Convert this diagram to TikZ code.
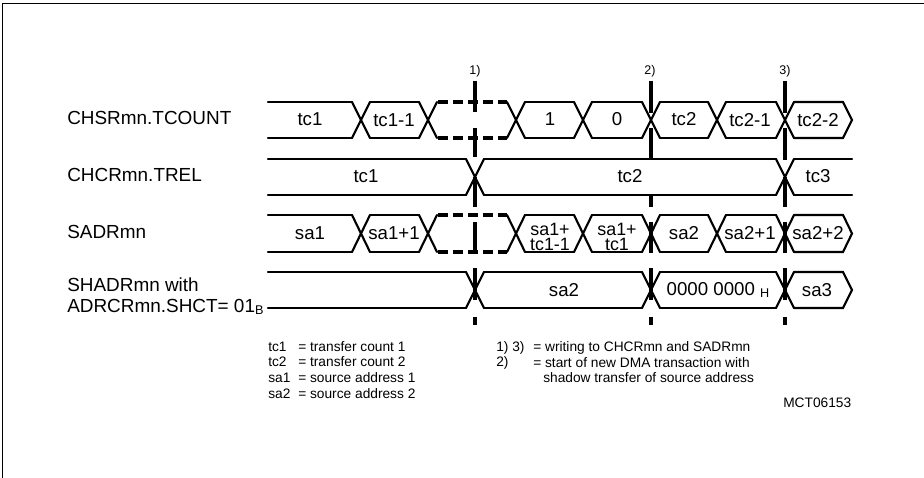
\documentclass[tikz,border=0pt]{standalone}
\usepackage{fontspec}
\setmainfont{Liberation Sans}
\tikzset{x=0.75pt,y=-0.75pt,
  sig/.style={line width=1.6pt,line join=miter,line cap=round},
  dsh/.style={line width=2.4pt,dash pattern=on 7.5pt off 3.75pt},
  vmark/.style={line width=2.6pt},
  lab/.style={font=\fontsize{14.2}{16}\selectfont,inner sep=0pt,anchor=west},
  val/.style={font=\fontsize{14}{11.25}\selectfont,inner sep=0pt,align=center},
  valtwo/.style={font=\fontsize{13.4}{11.25}\selectfont,inner sep=0pt,align=center},
  small/.style={font=\fontsize{10.3}{12}\selectfont,inner sep=0pt,anchor=west},
  refn/.style={font=\fontsize{9.4}{11}\selectfont,inner sep=0pt}}
\newcommand{\topbot}[4]{\draw[sig] (#1,#3) -- (#2,#3); \draw[sig] (#1,#4) -- (#2,#4);}
\newcommand{\crossx}[3]{\draw[sig] (#1-9,#2) -- (#1+9,#3); \draw[sig] (#1-9,#3) -- (#1+9,#2);}
\begin{document}
\begin{tikzpicture}
\useasboundingbox (0,0) rectangle (924,478);
\draw[line width=0.8pt] (2.5,478) -- (2.5,3.5) -- (924,3.5);
% row 1
\topbot{268}{352}{102}{138}
\crossx{361}{102}{138}
\topbot{370}{419}{102}{138}
\crossx{428}{102}{138}
\draw[dsh] (438,102) -- (507,102); \draw[dsh] (438,138) -- (507,138);
\crossx{516}{102}{138}
\topbot{525}{574}{102}{138}
\crossx{583}{102}{138}
\topbot{592}{642}{102}{138}
\crossx{651}{102}{138}
\topbot{660}{708}{102}{138}
\crossx{717}{102}{138}
\topbot{726}{776}{102}{138}
\crossx{785}{102}{138}
\draw[sig] (794,102) -- (843,102) -- (852,120) -- (843,138) -- (794,138);
% row 2
\topbot{268}{466}{159}{195}
\crossx{475}{159}{195}
\topbot{484}{776}{159}{195}
\crossx{785}{159}{195}
\topbot{794}{852}{159}{195}
% row 3
\topbot{268}{352}{215}{252}
\crossx{361}{215}{252}
\topbot{370}{419}{215}{252}
\crossx{428}{215}{252}
\draw[dsh] (438,215) -- (507,215); \draw[dsh] (438,252) -- (507,252);
\crossx{516}{215}{252}
\topbot{525}{574}{215}{252}
\crossx{583}{215}{252}
\topbot{592}{642}{215}{252}
\crossx{651}{215}{252}
\topbot{660}{708}{215}{252}
\crossx{717}{215}{252}
\topbot{726}{776}{215}{252}
\crossx{785}{215}{252}
\draw[sig] (794,215) -- (843,215) -- (852,233.5) -- (843,252) -- (794,252);
% row 4
\topbot{268}{466}{272}{308}
\crossx{475}{272}{308}
\topbot{484}{642}{272}{308}
\crossx{651}{272}{308}
\topbot{660}{776}{272}{308}
\crossx{785}{272}{308}
\draw[sig] (794,272) -- (843,272) -- (852,290) -- (843,308) -- (794,308);
% markers
\foreach \x/\a in {475/112,651/113,785/113}{\draw[vmark] (\x,81) -- (\x,\a);}
\foreach \x/\a in {475/157,651/158,785/160}{\draw[vmark] (\x,128) -- (\x,\a);}
\draw[vmark] (475,177) -- (475,207);
\draw[vmark] (651,195) -- (651,207);
\draw[vmark] (785,177) -- (785,207);
\foreach \x in {475,651,785}{
  \draw[vmark] (\x,222) -- (\x,253);
  \draw[vmark] (\x,268) -- (\x,300);
  \draw[vmark] (\x,317) -- (\x,325);
}
\node[refn] (r1) at (475,71) {1)};
\node[refn] (r2) at (650,71) {2)};
\node[refn] (r3) at (785,71) {3)};
% left labels
\node[lab] (l1) at (67,118) {CHSRmn.TCOUNT};
\node[lab] (l2) at (67,175) {CHCRmn.TREL};
\node[lab] (l3) at (67,232) {SADRmn};
\node[lab] (l4) at (67,285) {SHADRmn with};
\node[lab] (l5) at (67,307) {ADRCRmn.SHCT= 01{\fontsize{9.5}{10}\selectfont\raisebox{-1.5pt}{B}}};
% values
\node[val] (a1) at (310,119) {tc1};
\node[val] (a2) at (394,120) {tc1-1};
\node[val] (a3) at (550,119) {1};
\node[val] (a4) at (617,119) {0};
\node[val] (a5) at (684,119) {tc2};
\node[val] (a6) at (750,120) {tc2-1};
\node[val] (a7) at (818,120) {tc2-2};
\node[val] (b1) at (366,176) {tc1};
\node[val] (b2) at (630,176) {tc2};
\node[val] (b3) at (818,176) {tc3};
\node[val] (c1) at (310,233) {sa1};
\node[val] (c2) at (394,233) {sa1+1};
\node[valtwo] (c3) at (550,236.5) {sa1+\\tc1-1};
\node[valtwo] (c4) at (617,236.5) {sa1+\\tc1};
\node[val] (c5) at (684,233) {sa2};
\node[val] (c6) at (750,233) {sa2+1};
\node[val] (c7) at (818,233) {sa2+2};
\node[val] (d1) at (564,290) {sa2};
\node[val] (d2) at (718,290) {0000 0000 {\fontsize{9.5}{10}\selectfont\raisebox{-1.5pt}{H}}};
\node[val] (d3) at (817,290) {sa3};
% legends
\node[small] (k1) at (268,347) {tc1};
\node[small] (k1b) at (298,347) {= transfer count 1};
\node[small] (k2) at (268,362) {tc2};
\node[small] (k2b) at (298,362) {= transfer count 2};
\node[small] (k3) at (268,378) {sa1};
\node[small] (k3b) at (298,378) {= source address 1};
\node[small] (k4) at (268,394) {sa2};
\node[small] (k4b) at (298,394) {= source address 2};
\node[small] (m1) at (496,347.5) {1) 3)};
\node[small] (m1b) at (533,347.5) {= writing to CHCRmn and SADRmn};
\node[small] (m2) at (496,362.5) {2)};
\node[small] (m2b) at (533,362.5) {= start of new DMA transaction with};
\node[small] (m3) at (543,378) {shadow transfer of source address};
\node[small] (id) at (783,403) {MCT06153};
\end{tikzpicture}
\end{document}
